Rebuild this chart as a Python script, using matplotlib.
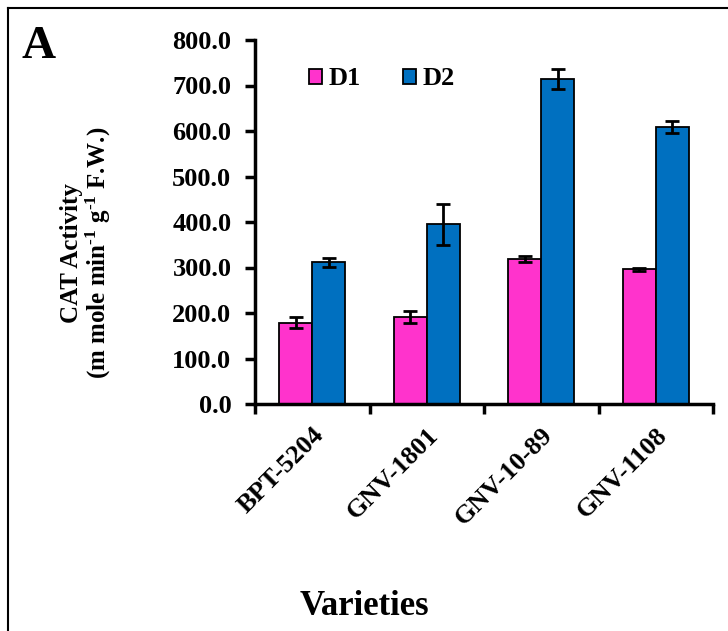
import matplotlib
matplotlib.use('Agg')
import matplotlib.pyplot as plt
from matplotlib.lines import Line2D
import numpy as np

# data
varieties = ['BPT-5204', 'GNV-1801', 'GNV-10-89', 'GNV-1108']
d1 = [179, 191, 318, 296]
d1_err = [12, 13, 7, 4]
d2 = [311, 395, 714, 609]
d2_err = [10, 45, 22, 14]

plt.rcParams['font.family'] = 'Liberation Serif'
plt.rcParams['font.weight'] = 'bold'
plt.rcParams['axes.labelweight'] = 'bold'
plt.rcParams['mathtext.fontset'] = 'custom'
plt.rcParams['mathtext.rm'] = 'Liberation Serif:bold'
plt.rcParams['mathtext.bf'] = 'Liberation Serif:bold'
plt.rcParams['mathtext.default'] = 'bf'

fig = plt.figure(figsize=(7.28, 6.31), dpi=100)
ax = fig.add_axes([255 / 728, 1 - 404 / 631, 458 / 728, 364 / 631])

x = np.arange(len(varieties))
w = 0.29
ax.bar(x - w / 2, d1, w, yerr=d1_err, color='#FF33CC', edgecolor='black',
       linewidth=1.3, label='D1', capsize=5,
       error_kw=dict(elinewidth=2, capthick=2, ecolor='black'))
ax.bar(x + w / 2, d2, w, yerr=d2_err, color='#0070C0', edgecolor='black',
       linewidth=1.3, label='D2', capsize=5,
       error_kw=dict(elinewidth=2, capthick=2, ecolor='black'))

ax.set_xlim(-0.5, 3.5)
ax.set_ylim(0, 800)
ax.set_yticks(np.arange(0, 801, 100))
ax.set_yticklabels(['%.1f' % v for v in np.arange(0, 801, 100)], fontsize=19)

ax.set_xticks(x)
ax.set_xticklabels(varieties, rotation=45, ha='right', rotation_mode='anchor',
                   fontsize=19)
ax.tick_params(axis='x', which='major', length=0, pad=14)
ax.set_xticks(np.arange(-0.5, 3.6, 1), minor=True)
ax.tick_params(axis='x', which='minor', length=7, width=2.5, direction='out')
ax.tick_params(axis='y', length=7, width=2.5, direction='out', pad=10)

for s in ['top', 'right']:
    ax.spines[s].set_visible(False)
for s in ['left', 'bottom']:
    ax.spines[s].set_linewidth(2.5)

ax.set_ylabel('CAT Activity\n(m mole min$^{\\text{-1}}$ g$^{\\text{-1}}$ F.W.)',
              fontsize=18, linespacing=1.05)
ax.yaxis.set_label_coords(-0.31, 0.415)
ax.set_xlabel('Varieties', fontsize=25)
ax.xaxis.set_label_coords(0.24, -0.51)

ax.legend(loc='upper left', bbox_to_anchor=(0.065, 0.99), ncol=2, frameon=False,
          fontsize=19, handlelength=0.5, handleheight=0.5, columnspacing=1.6,
          handletextpad=0.25)

fig.text(22 / 728, 1 - 58 / 631, 'A', fontsize=34, fontweight='bold')

# outer frame (left and top visible)
fig.add_artist(Line2D([7.5 / 728, 7.5 / 728], [0, 1 - 7.5 / 631], color='black', lw=1.5))
fig.add_artist(Line2D([7.5 / 728, 1], [1 - 7.5 / 631, 1 - 7.5 / 631], color='black', lw=1.5))

fig.savefig('out.png', dpi=100)
